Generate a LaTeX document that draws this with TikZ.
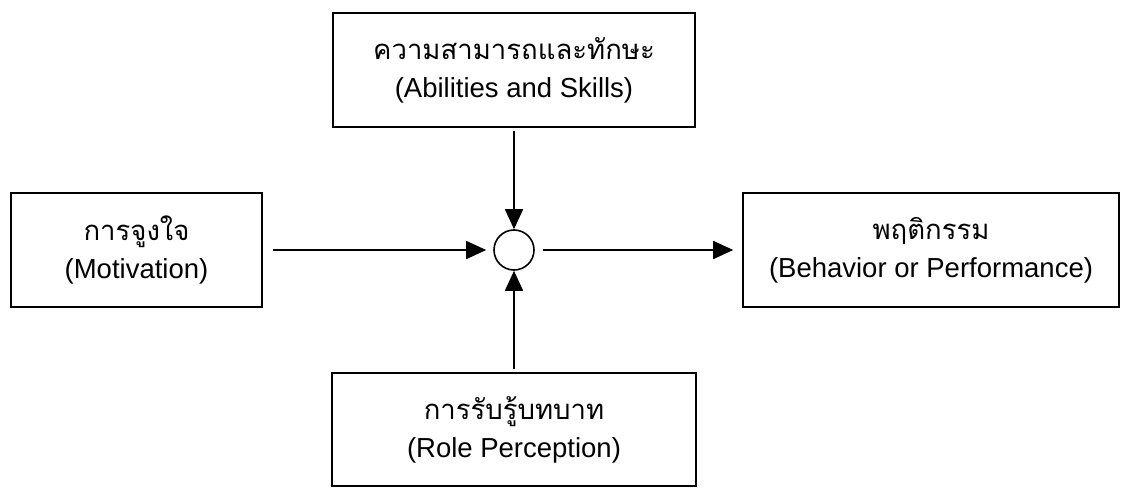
\documentclass[tikz,border=0pt]{standalone}
\usepackage{fontspec}
\setmainfont{Liberation Sans}
\newfontfamily\thaifont[Script=Thai]{Loma}
\usetikzlibrary{arrows.meta}
\tikzset{
  factor/.style={draw, line width=1.6pt, inner sep=0pt, align=center,
    minimum height=114pt, font=\fontsize{27.5}{38}\selectfont},
  meetpoint/.style={draw, circle, line width=1.6pt, minimum size=40pt, inner sep=0pt},
  flow/.style={line width=1.6pt, -{Triangle[length=20pt,width=18pt]}}
}
\begin{document}
\begin{tikzpicture}[x=1pt,y=1pt]
  \useasboundingbox (0,0) rectangle (1123,488);
  % the four factors and the point where they meet
  \node[meetpoint] (sum) at (514,238) {};
  \node[factor, minimum width=362pt] (skill) at (514,418)
    {{\thaifont ความสามารถและทักษะ}\\(Abilities and Skills)};
  \node[factor, minimum width=251pt] (motiv) at (136.5,238)
    {{\thaifont การจูงใจ}\\(Motivation)};
  \node[factor, minimum width=376pt] (behav) at (931,238)
    {{\thaifont พฤติกรรม}\\(Behavior or Performance)};
  \node[factor, minimum width=364pt, minimum height=113pt] (role) at (514,58.5)
    {{\thaifont การรับรู้บทบาท}\\(Role Perception)};

  \draw[flow, shorten <=3pt] (skill) -- (sum);
  \draw[flow, shorten <=3pt] (role) -- (sum);
  \draw[flow, shorten <=10pt, shorten >=7pt] (motiv) -- (sum);
  \draw[flow, shorten <=8pt, shorten >=9pt] (sum) -- (behav);
\end{tikzpicture}
\end{document}
